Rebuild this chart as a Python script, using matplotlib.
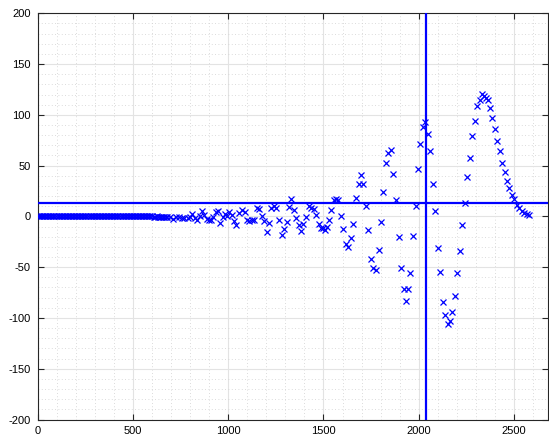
import matplotlib
matplotlib.use("Agg")
import matplotlib.pyplot as plt
from matplotlib.ticker import MultipleLocator

plt.rcParams['font.family'] = ['Liberation Sans', 'DejaVu Sans']
plt.rcParams['axes.unicode_minus'] = False

# flat start of the series (values read as zero)
flat_x = [0, 8, 16, 24, 32, 40, 48, 56, 64, 72, 80, 88, 96, 104, 112, 120,
          128, 136, 144, 152, 160, 168, 176, 184, 192, 200, 208, 216, 224, 232,
          240, 248, 256, 264, 272, 280, 288, 296, 304, 312, 320, 328, 336, 344,
          352, 360, 368, 376, 384, 392, 400, 408, 416, 424, 432, 440, 448, 456,
          464, 472, 480, 488, 496, 504, 512, 520, 528, 536, 544, 552, 560, 568,
          576, 584, 592, 600, 608, 616, 624, 632, 640, 648, 656, 664, 672, 680]
flat_y = [0, 0, 0, 0, 0, 0, 0, 0, 0, 0, 0, 0, 0, 0, 0, 0,
          0, 0, 0, 0, 0, 0, 0, 0, 0, 0, 0, 0, 0, 0,
          0, 0, 0, 0, 0, 0, 0, 0, 0, 0, 0, 0, 0, 0,
          0, 0, 0, 0, 0, 0, 0, 0, 0, 0, 0, 0, 0, 0,
          0, 0, 0, 0, 0, 0, 0, 0, 0, 0, 0, 0, 0, 0,
          0, 0, 0, 0, -0.3, -0.5, 0, -0.5, -0.3, -1, -0.5, -0.8, -0.5, -1]

# oscillating part
x_vals = [694, 711, 726, 741, 755, 769, 787, 799, 811, 825, 837, 851, 862, 872,
          886, 898, 911, 921, 934, 944, 956, 972, 984, 995, 1005, 1018, 1031,
          1042, 1058, 1072, 1086, 1096, 1110, 1126, 1136, 1149, 1163, 1175, 1189,
          1201, 1213, 1226, 1240, 1253, 1267, 1281, 1292, 1306, 1320, 1332, 1345,
          1358, 1372, 1383, 1393, 1409, 1423, 1437, 1449, 1461, 1474, 1486, 1498,
          1510, 1520, 1530, 1541, 1553, 1564, 1577, 1593, 1605, 1620, 1631, 1645,
          1657, 1671, 1684, 1697, 1710, 1722, 1736, 1748, 1760, 1776, 1789, 1801,
          1812, 1827, 1841, 1852, 1865, 1881, 1894, 1906, 1920, 1932, 1944, 1955,
          1970, 1983, 1996, 2009, 2021, 2033, 2047, 2059, 2074, 2086, 2100, 2112,
          2126, 2138, 2152, 2163, 2177, 2191, 2203, 2217, 2229, 2241, 2255, 2269,
          2282, 2296, 2308, 2320, 2332, 2343, 2352, 2362, 2373, 2387, 2400, 2413,
          2425, 2439, 2451, 2463, 2476, 2490, 2502, 2516, 2528, 2542, 2555, 2567,
          2579]
y_vals = [-1, -2.3, -1, -0.7, -2, -1.3, -1.6, -0.3, 2, -1.3, -3.6, 0.3, 5, 1,
          -2.3, -3.3, -3.3, -1, 4.3, 5.3, -6.6, -0.7, 2, 0.7, 4.6, 1, -5,
          -8.6, 3.3, 6, 4.3, -3.6, -4.6, -4, -3.6, 8.2, 7.6, 0.3, -4.6,
          -15.5, -6.2, 8.2, 10.5, 8, -3.6, -18.8, -12.5, -5.6, 9.6, 17.5, 6.6,
          -2, -8.2, -14.8, -7.6, -0.3, 10.2, 8.2, 7, 1.7, -7.2, -11.5, -11,
          -13.5, -10, -4, 6, 15.8, 17.5, 15.8, 0.7, -12, -27, -30,
          -21, -7.2, 18.5, 32, 41, 32, 9.9, -13.5, -42, -51, -53, -33, -5.3,
          24, 53, 62.5, 65, 41.5, 15.8, -20, -51, -71, -83, -71, -55.6,
          -19.5, 9.9, 46.7, 71, 88, 92.5, 81, 64, 32, 5.6, -31, -55,
          -84, -97, -106, -103, -94, -78, -56, -34, -8.6, 13, 38.5, 57.6,
          79, 93.5, 108.6, 115, 120.5, 118.5, 117, 115, 107, 97, 86, 74,
          64, 52.7, 44, 34.6, 28.3, 20.7, 17, 11.5, 8.6, 5, 3.5, 2,
          1]
h_level = 13
v_pos = 2040

fig = plt.figure(figsize=(5.49, 4.42), dpi=100)
ax = fig.add_axes([37.7 / 549, 1 - 419.5 / 442, (548.3 - 37.7) / 549, (419.5 - 13.3) / 442])
ax.plot(flat_x + x_vals, flat_y + y_vals, 'x', color='#0000ff', ms=5, mew=0.9, zorder=3)
ax.axhline(h_level, color='#0000ff', lw=1.6, zorder=4)
ax.axvline(v_pos, color='#0000ff', lw=1.6, zorder=4)
ax.set_xlim(0, 2680)
ax.set_ylim(-200, 200)
ax.xaxis.set_major_locator(MultipleLocator(500))
ax.xaxis.set_minor_locator(MultipleLocator(100))
ax.yaxis.set_major_locator(MultipleLocator(50))
ax.yaxis.set_minor_locator(MultipleLocator(10))
ax.set_axisbelow(True)
ax.grid(which='major', color='#e3e3e3', lw=0.8)
ax.grid(which='minor', color='#cfcfcf', lw=0.6, linestyle=(0, (1, 3)))
ax.tick_params(which='major', direction='in', top=True, right=True, length=4,
               width=0.8, color='#262626', labelsize=8, pad=5)
ax.tick_params(which='minor', length=0)
for s in ax.spines.values():
    s.set_color('#262626')
    s.set_linewidth(0.8)

fig.savefig('out.png', dpi=100)
